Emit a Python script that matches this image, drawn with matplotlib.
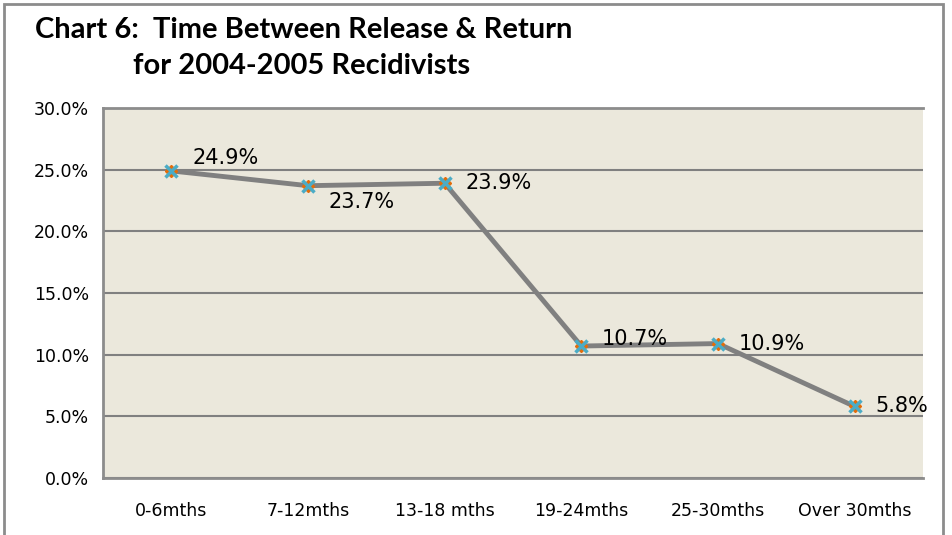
import numpy as np
import matplotlib.pyplot as plt
from matplotlib.patches import Rectangle

# Data
categories = ['0-6mths', '7-12mths', '13-18 mths', '19-24mths', '25-30mths', 'Over 30mths']
pct = [24.9, 23.7, 23.9, 10.7, 10.9, 5.8]
yticks = [0, 5, 10, 15, 20, 25, 30]

fig = plt.figure(figsize=(9.53, 5.35), dpi=100)
W, H = 953, 535

# Outer chart border
fig.patches.append(Rectangle((4 / W, -0.05), (943 - 4) / W, 1 - 4 / H + 0.05,
                             transform=fig.transFigure, fill=False,
                             edgecolor='#8c8c8c', linewidth=2))

ax = fig.add_axes([103 / W, 1 - 478 / H, (923 - 103) / W, (478 - 108) / H])
ax.set_facecolor('#ebe8dc')

x = np.arange(len(categories))
ax.plot(x, pct, color='#808080', linewidth=3.5, zorder=3)
ax.plot(x, pct, linestyle='none', marker='D', markersize=6, color='#e36c0a', zorder=4)
ax.plot(x, pct, linestyle='none', marker='x', markersize=9, markeredgewidth=2.5,
        color='#4bacc6', zorder=5)

# Data labels (offsets in points)
offsets = [(15, 9), (15, -12), (15, 0), (15, 5), (15, 0), (15, 0)]
for xi, v, (dx, dy) in zip(x, pct, offsets):
    ax.annotate(f'{v:.1f}%', (xi, v), xytext=(dx, dy), textcoords='offset points',
                ha='left', va='center', fontsize=15, family='DejaVu Sans', zorder=6)

ax.set_xlim(-0.5, len(categories) - 0.5)
ax.set_ylim(0, 30)
ax.set_yticks(yticks)
ax.set_yticklabels([f'{t:.1f}%' for t in yticks], fontsize=12.5, family='DejaVu Sans')
ax.set_xticks(x)
ax.set_xticklabels(categories, fontsize=12.5, family='DejaVu Sans')
ax.tick_params(length=0)
ax.tick_params(axis='x', pad=17)
ax.tick_params(axis='y', pad=10)

ax.yaxis.grid(True, color='#808080', linewidth=1.5)
ax.set_axisbelow(True)
for s in ['left', 'top', 'bottom']:
    ax.spines[s].set_color('#8c8c8c')
    ax.spines[s].set_linewidth(2)
ax.spines['right'].set_visible(False)

fig.text(35 / W, 1 - 30 / H, 'Chart 6:  Time Between Release & Return', fontsize=21,
         fontweight='bold', family='Lato', va='center', ha='left')
fig.text(133 / W, 1 - 66 / H, 'for 2004-2005 Recidivists', fontsize=21,
         fontweight='bold', family='Lato', va='center', ha='left')

fig.savefig('out.png', dpi=100)
